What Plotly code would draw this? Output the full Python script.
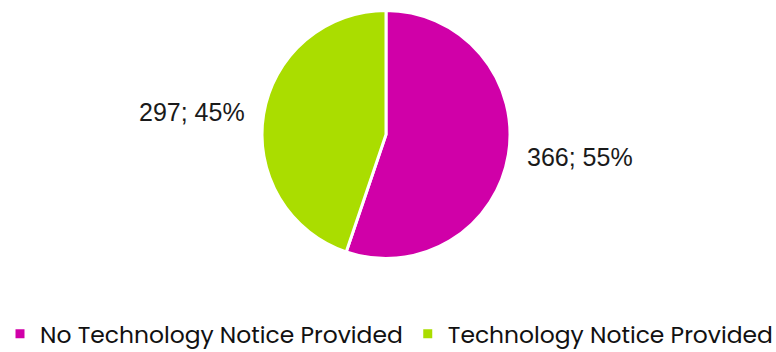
import math
import plotly.graph_objects as go

categories = ["No Technology Notice Provided", "Technology Notice Provided"]
counts = [366, 297]
colors = ["#D000A8", "#AADD00"]

W, H = 776, 352
CX, CY, R = 386, 134.5, 124  # pie centre and radius in px

fig = go.Figure(
    go.Pie(
        labels=categories,
        values=counts,
        sort=False,
        direction="clockwise",
        rotation=0,
        marker=dict(colors=colors, line=dict(color="white", width=3)),
        textinfo="none",
        hoverinfo="label+value+percent",
        domain=dict(x=[(CX - R) / W, (CX + R) / W], y=[(H - CY - R) / H, (H - CY + R) / H]),
    )
)

# value labels placed just outside each slice, along its mid-angle
total = sum(counts)
cum = 0
label_r = R + 17
for v in counts:
    mid = (cum + v / 2) / total * 2 * math.pi
    cum += v
    dx, dy = math.sin(mid), math.cos(mid)
    px = CX + label_r * dx
    py = CY - label_r * dy
    fig.add_annotation(
        x=px / W,
        y=1 - py / H,
        xref="paper",
        yref="paper",
        text=f"{v}; {round(100 * v / total)}%",
        showarrow=False,
        xanchor="left" if dx >= 0 else "right",
        yanchor="middle",
        font=dict(family="Liberation Sans, Arial, sans-serif", size=25, color="#1a1a1a"),
    )

fig.update_layout(
    width=W,
    height=H,
    margin=dict(l=0, r=0, t=0, b=0, autoexpand=False),
    paper_bgcolor="white",
    plot_bgcolor="white",
    showlegend=True,
    legend=dict(
        orientation="h",
        x=0,
        xanchor="left",
        y=(H - 334) / H,
        yanchor="middle",
        font=dict(family="Poppins, Inter, sans-serif", size=23.4, color="#111111"),
        traceorder="normal",
        itemwidth=30,
    ),
)

fig.write_html("out.html")
